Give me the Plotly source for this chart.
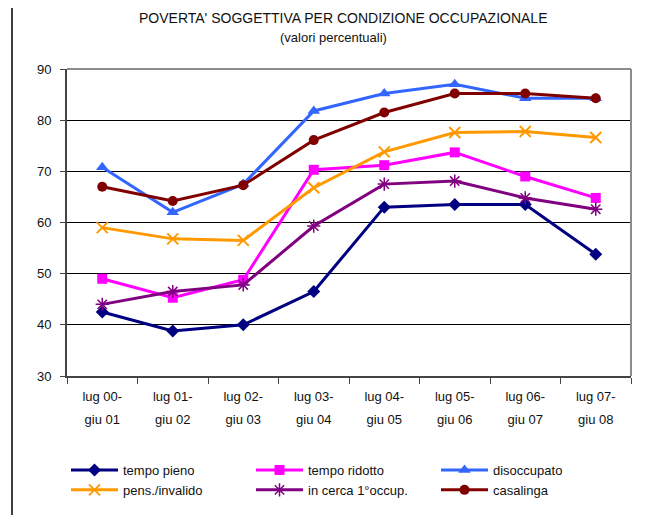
import plotly.graph_objects as go

cat_top = ["lug 00-", "lug 01-", "lug 02-", "lug 03-", "lug 04-", "lug 05-", "lug 06-", "lug 07-"]
cat_bottom = ["giu 01", "giu 02", "giu 03", "giu 04", "giu 05", "giu 06", "giu 07", "giu 08"]
positions = list(range(len(cat_top)))

tempo_pieno = [42.5, 38.8, 40.0, 46.5, 63.0, 63.5, 63.5, 53.8]
tempo_ridotto = [49.0, 45.3, 48.8, 70.3, 71.2, 73.7, 69.0, 64.8]
disoccupato = [70.8, 62.0, 67.5, 81.8, 85.2, 87.0, 84.3, 84.3]
pens_invalido = [59.0, 56.8, 56.5, 66.8, 73.8, 77.6, 77.8, 76.6]
in_cerca = [44.0, 46.5, 47.8, 59.3, 67.5, 68.1, 64.8, 62.6]
casalinga = [67.0, 64.2, 67.3, 76.1, 81.5, 85.2, 85.2, 84.3]

series = [
    ("tempo pieno", tempo_pieno, "#000080", "diamond", 10, None),
    ("tempo ridotto", tempo_ridotto, "#FF00FF", "square", 10, None),
    ("disoccupato", disoccupato, "#3366FF", "triangle-up", 11, None),
    ("pens./invalido", pens_invalido, "#FF9900", "x-thin-open", 11, 2),
    ("in cerca 1°occup.", in_cerca, "#800080", "asterisk-open", 11, 1.5),
    ("casalinga", casalinga, "#800000", "circle", 10, None),
]

font_family = "Liberation Sans, Arial, sans-serif"

fig = go.Figure()
for name, vals, color, sym, size, mlw in series:
    marker = dict(symbol=sym, size=size, color=color)
    if mlw:
        marker["line"] = dict(color=color, width=mlw)
    fig.add_trace(go.Scatter(
        x=positions, y=vals, name=name, mode="lines+markers",
        line=dict(color=color, width=3), marker=marker,
    ))

# invisible helper trace for the second-line labels axis
fig.add_trace(go.Scatter(x=positions, y=tempo_pieno, xaxis="x2", mode="lines",
                         line=dict(width=0, color="rgba(0,0,0,0)"), showlegend=False,
                         hoverinfo="skip"))

# page has an 8px body margin: figure coords = reference coords - 8
OFF = 8
W, H = 672 - OFF, 515 - OFF
L, T = 67 - OFF, 69 - OFF
R = W - (631 - OFF)
B = H - (376 - OFF)
pw, ph = W - L - R, H - T - B

def px_x(x):
    return (x - OFF - L) / pw

def px_y(y):
    return 1 + (T - (y - OFF)) / ph

boundaries = [p - 0.5 for p in positions] + [positions[-1] + 0.5]

fig.update_layout(
    width=W, height=H,
    margin=dict(l=L, r=R, t=T, b=B, autoexpand=False),
    paper_bgcolor="white", plot_bgcolor="white",
    font=dict(family=font_family, size=13, color="#111111"),
    showlegend=True,
    legend=dict(orientation="h", xref="container", yref="container",
                x=(66 - OFF) / W, y=1 - (455 - OFF) / H, xanchor="left", yanchor="top",
                entrywidth=123, entrywidthmode="pixels", font=dict(size=13),
                bgcolor="rgba(0,0,0,0)", itemwidth=47),
    xaxis=dict(range=[-0.5, 7.5], tickmode="array", tickvals=positions, ticktext=cat_top,
               ticks="", showgrid=False, zeroline=False, automargin=False,
               showline=True, linecolor="#444444", linewidth=2,
               ticklabelstandoff=7,
               minor=dict(tickmode="array", tickvals=boundaries, ticks="outside",
                          ticklen=6, tickcolor="#444444", tickwidth=1, showgrid=False),
               tickfont=dict(size=13, color="#111111")),
    xaxis2=dict(range=[-0.5, 7.5], overlaying="x", anchor="y", side="bottom",
                tickmode="array", tickvals=positions, ticktext=cat_bottom, automargin=False,
                ticks="", showgrid=False, zeroline=False, showline=False,
                ticklabelstandoff=34, tickfont=dict(size=13, color="#111111")),
    yaxis=dict(range=[30, 90], dtick=10, tick0=30, ticks="outside", ticklen=5,
               tickcolor="#444444", showgrid=True, gridcolor="#000000", gridwidth=1,
               zeroline=False, showline=True, linecolor="#444444", linewidth=2,
               automargin=False,
               ticklabelstandoff=6, tickfont=dict(size=13, color="#111111")),
    annotations=[
        dict(text="POVERTA' SOGGETTIVA PER CONDIZIONE OCCUPAZIONALE", xref="paper", yref="paper",
             x=px_x(343), y=px_y(18), xanchor="center", yanchor="middle", showarrow=False,
             font=dict(size=14, color="#111111")),
        dict(text="(valori percentuali)", xref="paper", yref="paper",
             x=px_x(333), y=px_y(38), xanchor="center", yanchor="middle", showarrow=False,
             font=dict(size=13, color="#111111")),
    ],
    shapes=[
        dict(type="line", xref="paper", yref="paper", x0=0, x1=1, y0=1, y1=1,
             line=dict(color="#8c8c8c", width=2)),
        dict(type="line", xref="paper", yref="paper", x0=1, x1=1, y0=0, y1=1,
             line=dict(color="#8c8c8c", width=2)),
        dict(type="rect", xref="paper", yref="paper", x0=px_x(12), x1=px_x(700),
             y0=px_y(560), y1=px_y(3), line=dict(color="#000000", width=1.5), layer="below"),
    ],
)

fig.write_html("out.html")
